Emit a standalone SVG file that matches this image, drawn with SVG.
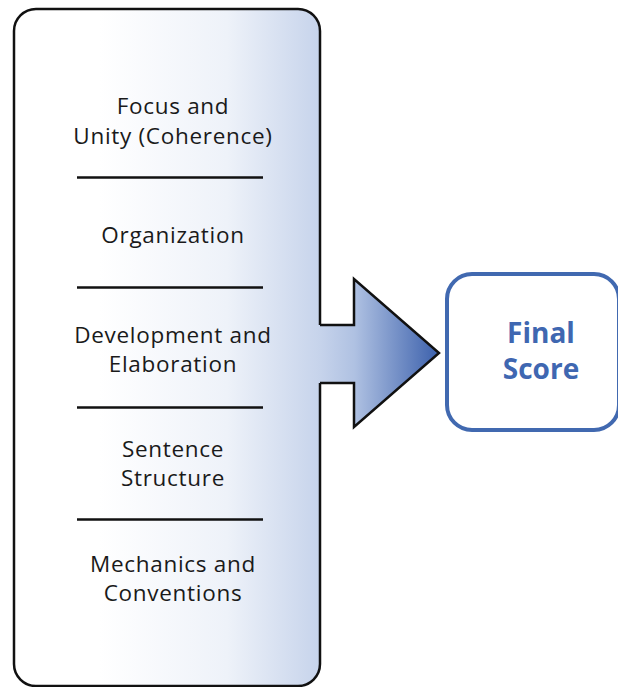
<svg xmlns="http://www.w3.org/2000/svg" width="618" height="687" viewBox="0 0 618 687">
<style>
.lbl{font-family:"Open Sans","Noto Sans","Liberation Sans",sans-serif;font-size:22.5px;letter-spacing:0.7px;fill:#1a1a1a;text-anchor:middle}
.sep{stroke:#111;stroke-width:2.5}
.fin{font-family:"Open Sans","Noto Sans","Liberation Sans",sans-serif;font-size:28px;font-weight:bold;fill:#3f67b1;text-anchor:middle}
</style>
<defs>
<linearGradient id="g" gradientUnits="userSpaceOnUse" x1="14" y1="0" x2="440" y2="0">
<stop offset="0" stop-color="#ffffff"/>
<stop offset="0.2" stop-color="#ffffff"/>
<stop offset="0.5" stop-color="#eef2f9"/>
<stop offset="0.72" stop-color="#c6d3eb"/>
<stop offset="0.8" stop-color="#afc1e2"/>
<stop offset="1" stop-color="#3a5fab"/>
</linearGradient>
</defs>
<g id="criteria">
<rect x="14" y="9" width="306" height="677" rx="22" ry="22" fill="url(#g)" stroke="#111" stroke-width="2.5"/>
<text class="lbl" x="173" y="114">Focus and</text>
<text class="lbl" x="173" y="144">Unity (Coherence)</text>
<line class="sep" x1="77" y1="177.5" x2="263" y2="177.5"/>
<text class="lbl" x="173" y="243">Organization</text>
<line class="sep" x1="77" y1="287.5" x2="263" y2="287.5"/>
<text class="lbl" x="173" y="343">Development and</text>
<text class="lbl" x="173" y="372">Elaboration</text>
<line class="sep" x1="77" y1="407.5" x2="263" y2="407.5"/>
<text class="lbl" x="173" y="457">Sentence</text>
<text class="lbl" x="173" y="486">Structure</text>
<line class="sep" x1="77" y1="519.5" x2="263" y2="519.5"/>
<text class="lbl" x="173" y="572">Mechanics and</text>
<text class="lbl" x="173" y="601">Conventions</text>
</g>
<g id="connectors">
<polygon points="317,325 354,325 354,279 439,353 354,427 354,383 317,383" fill="url(#g)"/>
<polyline points="320,325 354,325 354,279 439,353 354,427 354,383 320,383" fill="none" stroke="#111" stroke-width="2.5" stroke-linejoin="miter"/>
</g>
<g id="final">
<rect x="447" y="274" width="172" height="156" rx="25" ry="25" fill="#fff" stroke="#4169b0" stroke-width="4"/>
<text class="fin" x="541" y="343">Final</text>
<text class="fin" x="541" y="379">Score</text>
</g>
</svg>
